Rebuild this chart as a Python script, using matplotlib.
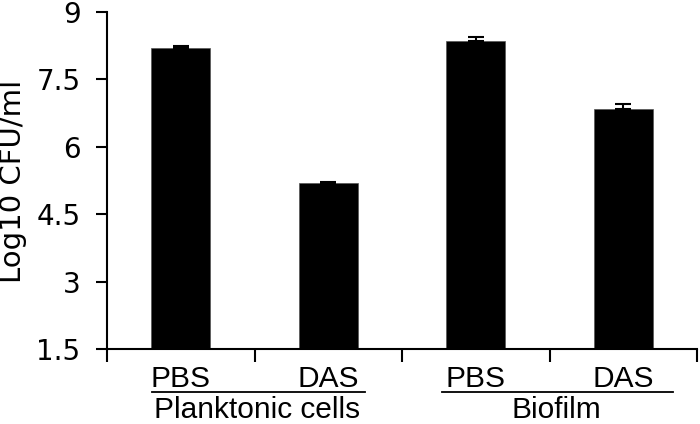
#!/usr/bin/env python3
import matplotlib
matplotlib.use('Agg')
import matplotlib.pyplot as plt
import matplotlib.transforms as mtrans
import numpy as np

# data
treatments = ['PBS', 'DAS', 'PBS', 'DAS']
log_cfu = [8.19, 5.19, 8.35, 6.84]
log_err = [0.05, 0.03, 0.10, 0.11]
groups = ['Planktonic cells', 'Biofilm']
y_ticks = [1.5, 3, 4.5, 6, 7.5, 9]
y_ticklabels = ['1.5', '3', '4.5', '6', '7.5', '9']

fig = plt.figure(figsize=(7, 4.24), dpi=100)
ax = fig.add_axes([107 / 700, 75 / 424, 590 / 700, 337 / 424])

x = np.arange(len(treatments)) + 0.5
ax.bar(x, log_cfu, width=0.4, color='black', edgecolor='#555555', linewidth=0.5)
ax.errorbar(x, log_cfu, yerr=[np.zeros(len(log_err)), log_err], fmt='none',
            ecolor='black', elinewidth=1.5, capsize=6, capthick=1.5)

ax.set_ylim(1.5, 9)
ax.set_xlim(0, 4)
ax.set_yticks(y_ticks)
ax.set_yticklabels(y_ticklabels, fontsize=20, family='DejaVu Sans')
ax.set_xticks(np.arange(len(treatments) + 1))
ax.set_xticklabels([])
ax.tick_params(axis='y', direction='out', length=8, width=1.5, pad=11)
ax.tick_params(axis='x', direction='out', length=9, width=1.5)

for s in ['top', 'right']:
    ax.spines[s].set_visible(False)
for s in ['left', 'bottom']:
    ax.spines[s].set_linewidth(1.5)

# y label placed directly on the figure so it stays inside the left edge
fig.text(13 / 700, 1 - 181 / 424, 'Log10 CFU/ml', rotation=90, ha='center',
         va='center', fontsize=21, family='DejaVu Sans')

# category labels under the bars, and group labels with underlines
trans = mtrans.blended_transform_factory(ax.transData, ax.transAxes)
for xi, lab in zip(x, treatments):
    ax.text(xi, -0.113, lab, transform=trans, ha='center', va='baseline',
            fontsize=21.5, family='Liberation Sans', clip_on=False)

group_lines = [(0.305, 1.75), (2.27, 3.84)]
group_centers = [1.02, 3.05]
for (x0, x1), xc, g in zip(group_lines, group_centers, groups):
    ax.plot([x0, x1], [-0.128, -0.128], transform=trans, color='black',
            linewidth=1.3, clip_on=False)
    ax.text(xc, -0.204, g, transform=trans, ha='center', va='baseline',
            fontsize=21.5, family='Liberation Sans', clip_on=False)

fig.savefig('out.png', dpi=100)
